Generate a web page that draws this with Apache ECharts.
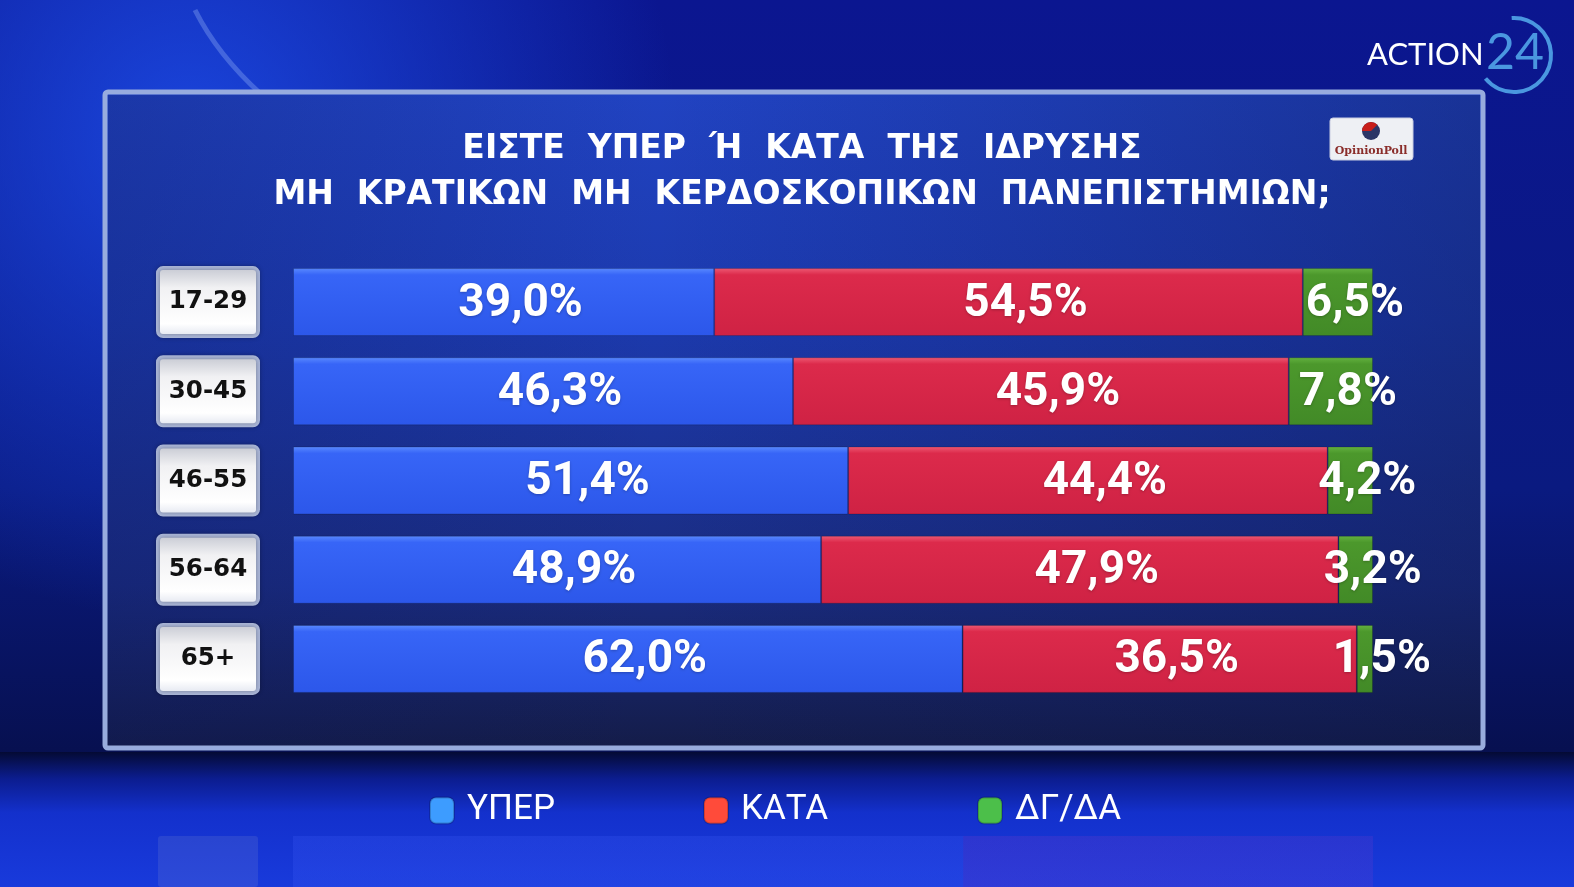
<!DOCTYPE html>
<html><head><meta charset="utf-8">
<script src="https://cdn.jsdelivr.net/npm/echarts@6/dist/echarts.min.js"></script>
<style>html,body{margin:0;padding:0;background:#0a1478;overflow:hidden}#c{width:1574px;height:887px;}</style>
</head><body><div id="c"></div>
<script>
const categories = ['17-29', '30-45', '46-55', '56-64', '65+'];
const seriesNames = ['ΥΠΕΡ', 'ΚΑΤΑ', 'ΔΓ/ΔΑ'];
const yper = [39.0, 46.3, 51.4, 48.9, 62.0];
const kata = [54.5, 45.9, 44.4, 47.9, 36.5];
const dgda = [6.5, 7.8, 4.2, 3.2, 1.5];
const titleText = 'ΕΙΣΤΕ  ΥΠΕΡ  Ή  ΚΑΤΑ  ΤΗΣ  ΙΔΡΥΣΗΣ\nΜΗ  ΚΡΑΤΙΚΩΝ  ΜΗ  ΚΕΡΔΟΣΚΟΠΙΚΩΝ  ΠΑΝΕΠΙΣΤΗΜΙΩΝ;';

const G = echarts.graphic;
const chart = echarts.init(document.getElementById('c'), null, {renderer: 'canvas'});
const fmt = p => p.value.toFixed(1).replace('.', ',') + '%';
const grad = (a, b, c) => new G.LinearGradient(0, 0, 0, 1, [{offset: 0, color: a}, {offset: 0.1, color: b}, {offset: 1, color: c}]);
const barColors = [grad('#5a8aff', '#3765f7', '#2c57ea'), grad('#ee5a74', '#dc2a4b', '#cf2244'), grad('#64b240', '#4c982c', '#428a27')];
const legendColors = ['#3d9cff', '#ff4b3a', '#4cbf4a'];
const legendLefts = [424, 698, 972];
const seriesData = [yper, kata, dgda];

const labelStyle = {
  show: true, position: 'inside', offset: [17, 2], formatter: fmt,
  color: '#ffffff', fontFamily: 'Roboto', fontWeight: 'bold', fontSize: 46,
  textShadowColor: 'rgba(0,0,0,0.25)', textShadowBlur: 3, textShadowOffsetY: 1
};

const option = {
  animation: false,
  backgroundColor: new G.LinearGradient(0, 0, 0, 1, [
    {offset: 0, color: '#0b1690'}, {offset: 0.55, color: '#0a1a80'}, {offset: 0.85, color: '#071050'}, {offset: 1, color: '#0a1a78'}]),
  graphic: [
    {type: 'rect', z: -10, shape: {x: 0, y: 0, width: 1574, height: 887},
      style: {fill: new G.RadialGradient(0.12, 0.15, 0.55, [
        {offset: 0, color: 'rgba(30,80,240,0.8)'}, {offset: 1, color: 'rgba(30,80,240,0)'}])}},
    {type: 'rect', z: -9, shape: {x: 0, y: 752, width: 1574, height: 135},
      style: {fill: new G.LinearGradient(0, 0, 0, 1, [
        {offset: 0, color: 'rgba(4,10,50,0.95)'}, {offset: 0.2, color: 'rgba(12,30,150,0.9)'}, {offset: 0.45, color: 'rgba(20,50,210,0.95)'}, {offset: 1, color: 'rgba(25,60,225,0.95)'}])}},
    {type: 'bezierCurve', z: -8, shape: {x1: 195, y1: 10, cpx1: 250, cpy1: 120, cpx2: 420, cpy2: 230, x2: 760, y2: 290},
      style: {stroke: 'rgba(170,200,255,0.3)', lineWidth: 5, fill: null}},
    {type: 'rect', z: -5, shape: {x: 105, y: 92, width: 1378, height: 656, r: 3},
      style: {fill: new G.LinearGradient(0, 0, 0, 1, [
        {offset: 0, color: '#2143c2'}, {offset: 0.35, color: '#1c3aae'}, {offset: 0.75, color: '#1a2c80'}, {offset: 1, color: '#141c48'}]),
        stroke: '#98acde', lineWidth: 5}},
    {type: 'rect', z: -4, shape: {x: 108, y: 95, width: 1372, height: 650},
      style: {fill: new G.LinearGradient(0, 0, 1, 0, [
        {offset: 0, color: 'rgba(10,20,90,0.25)'}, {offset: 0.4, color: 'rgba(10,20,90,0)'}, {offset: 1, color: 'rgba(10,20,70,0.35)'}])}},
    {type: 'rect', z: -3, shape: {x: 293, y: 836, width: 1080, height: 51},
      style: {fill: new G.LinearGradient(0, 0, 1, 0, [
        {offset: 0, color: 'rgba(70,100,255,0.2)'}, {offset: 0.62, color: 'rgba(70,100,255,0.2)'}, {offset: 0.621, color: 'rgba(130,60,200,0.22)'}, {offset: 1, color: 'rgba(130,60,200,0.18)'}])}},
    {type: 'rect', z: -3, shape: {x: 158, y: 836, width: 100, height: 51, r: 3},
      style: {fill: 'rgba(160,170,210,0.15)'}},
    // ACTION 24 logo
    {type: 'text', z: 10, style: {x: 1367, y: 55, text: 'ACTION', fill: '#ffffff', fontFamily: 'Lato',
      fontSize: 31, fontWeight: 'normal', textAlign: 'left', textVerticalAlign: 'middle'}},
    {type: 'text', z: 10, style: {x: 1486, y: 53, text: '24', fill: '#4a97e0', fontFamily: 'Lato',
      fontSize: 50, fontWeight: 'normal', textAlign: 'left', textVerticalAlign: 'middle'}},
    {type: 'arc', z: 10, shape: {cx: 1514, cy: 55, r: 37, startAngle: -Math.PI * 0.52, endAngle: Math.PI * 0.78, clockwise: true},
      style: {stroke: '#4a97e0', lineWidth: 4, fill: null}},
    // OpinionPoll logo
    {type: 'rect', z: 10, shape: {x: 1330, y: 118, width: 83, height: 42, r: 3},
      style: {fill: '#eef0f4', stroke: '#c8cce0', lineWidth: 1}},
    {type: 'circle', z: 11, shape: {cx: 1371, cy: 131, r: 9}, style: {fill: '#2b3566'}},
    {type: 'sector', z: 12, shape: {cx: 1371, cy: 131, r: 9, r0: 0, startAngle: Math.PI, endAngle: Math.PI * 1.75}, style: {fill: '#c81e1a'}},
    {type: 'text', z: 11, style: {x: 1371, y: 151, text: 'OpinionPoll', fill: '#8a2d2a', fontFamily: 'DejaVu Serif',
      fontSize: 11, fontWeight: 'bold', textAlign: 'center', textVerticalAlign: 'middle'}}
  ],
  title: {
    text: titleText, left: 797, top: 121, textAlign: 'center',
    textStyle: {color: '#ffffff', fontFamily: 'DejaVu Sans', fontWeight: 'bold', fontSize: 33, lineHeight: 46}
  },
  legend: legendLefts.map((l, i) => ({
    left: l, top: 788, itemWidth: 24, itemHeight: 26, icon: 'roundRect', selectedMode: false,
    data: [{name: seriesNames[i], itemStyle: {color: legendColors[i]}}],
    textStyle: {color: '#ffffff', fontFamily: 'Roboto', fontSize: 35, padding: [3, 0, 0, 8]}
  })),
  grid: {left: 293, right: 201, top: 257.5, bottom: 183.5, containLabel: false},
  xAxis: {type: 'value', min: 0, max: 100, show: false},
  yAxis: {
    type: 'category', data: categories, inverse: true,
    axisLine: {show: false}, axisTick: {show: false}, splitLine: {show: false},
    axisLabel: {
      margin: 85, align: 'center', width: 82, height: 52, lineHeight: 52, padding: [6, 7],
      color: '#111111', fontFamily: 'DejaVu Sans', fontWeight: 'bold', fontSize: 24.5,
      backgroundColor: new G.LinearGradient(0, 0, 0, 1, [
        {offset: 0, color: '#c3c6d0'}, {offset: 0.3, color: '#f1f1f3'}, {offset: 0.8, color: '#ffffff'}, {offset: 1, color: '#dfe3ee'}]),
      borderColor: '#a9b5d6', borderWidth: 4, borderRadius: 3,
      shadowColor: 'rgba(0,0,0,0.3)', shadowBlur: 4
    }
  },
  series: seriesNames.map((n, i) => ({
    name: n, type: 'bar', stack: 'total', barWidth: 68, data: seriesData[i],
    itemStyle: {color: barColors[i], borderColor: 'rgba(0,0,0,0.18)', borderWidth: 1},
    label: labelStyle
  }))
};
chart.setOption(option);
</script></body></html>
